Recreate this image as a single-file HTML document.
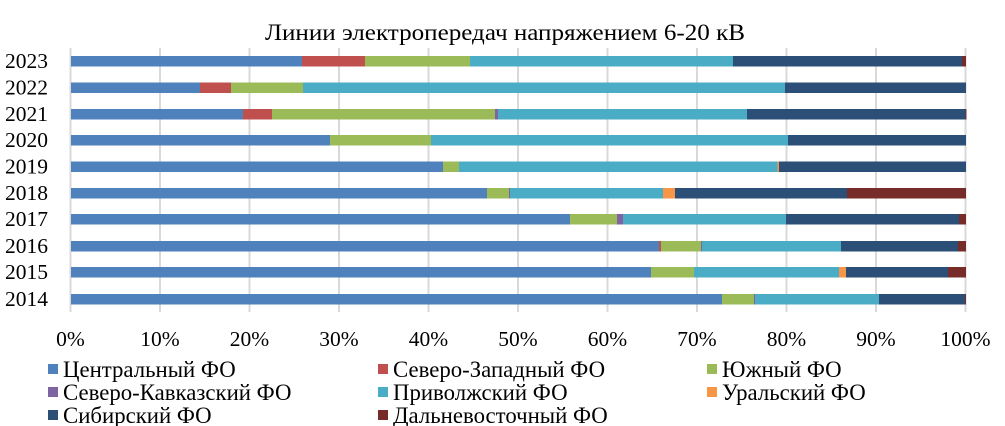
<!DOCTYPE html>
<html><head><meta charset="utf-8"><style>
html,body{margin:0;padding:0;background:#fff;}
svg{display:block;}
text{font-family:"Liberation Serif",serif;fill:#000;}
</style></head><body>
<svg width="1005" height="426" viewBox="0 0 1005 426" xmlns="http://www.w3.org/2000/svg">
<text x="505" y="40" font-size="23" text-anchor="middle" textLength="480" lengthAdjust="spacingAndGlyphs">Линии электропередач напряжением 6-20 кВ</text>
<g stroke="#d9d9d9" stroke-width="2">
<line x1="70.5" y1="48" x2="70.5" y2="312"/>
<line x1="160" y1="48" x2="160" y2="312"/>
<line x1="249.5" y1="48" x2="249.5" y2="312"/>
<line x1="339" y1="48" x2="339" y2="312"/>
<line x1="428.5" y1="48" x2="428.5" y2="312"/>
<line x1="518" y1="48" x2="518" y2="312"/>
<line x1="607.5" y1="48" x2="607.5" y2="312"/>
<line x1="697" y1="48" x2="697" y2="312"/>
<line x1="786.5" y1="48" x2="786.5" y2="312"/>
<line x1="876" y1="48" x2="876" y2="312"/>
<line x1="965.5" y1="48" x2="965.5" y2="312"/>
</g>
<g>
<rect x="71" y="56" width="231" height="10.5" fill="#4F81BD"/>
<rect x="302" y="56" width="63" height="10.5" fill="#C0504D"/>
<rect x="365" y="56" width="105" height="10.5" fill="#9BBB59"/>
<rect x="470" y="56" width="263" height="10.5" fill="#4BACC6"/>
<rect x="733" y="56" width="229" height="10.5" fill="#2C4F77"/>
<rect x="962" y="56" width="4" height="10.5" fill="#772C2A"/>
<rect x="71" y="82.5" width="129" height="10.5" fill="#4F81BD"/>
<rect x="200" y="82.5" width="31" height="10.5" fill="#C0504D"/>
<rect x="231" y="82.5" width="72" height="10.5" fill="#9BBB59"/>
<rect x="303" y="82.5" width="482" height="10.5" fill="#4BACC6"/>
<rect x="785" y="82.5" width="181" height="10.5" fill="#2C4F77"/>
<rect x="71" y="109" width="172" height="10.5" fill="#4F81BD"/>
<rect x="243" y="109" width="29" height="10.5" fill="#C0504D"/>
<rect x="272" y="109" width="223" height="10.5" fill="#9BBB59"/>
<rect x="495" y="109" width="3" height="10.5" fill="#8064A2"/>
<rect x="498" y="109" width="249" height="10.5" fill="#4BACC6"/>
<rect x="747" y="109" width="218.5" height="10.5" fill="#2C4F77"/>
<rect x="965.5" y="109" width="1" height="10.5" fill="#772C2A"/>
<rect x="71" y="135" width="259" height="10.5" fill="#4F81BD"/>
<rect x="330" y="135" width="101" height="10.5" fill="#9BBB59"/>
<rect x="431" y="135" width="357" height="10.5" fill="#4BACC6"/>
<rect x="788" y="135" width="178" height="10.5" fill="#2C4F77"/>
<rect x="71" y="161.5" width="372" height="10.5" fill="#4F81BD"/>
<rect x="443" y="161.5" width="16" height="10.5" fill="#9BBB59"/>
<rect x="459" y="161.5" width="318.5" height="10.5" fill="#4BACC6"/>
<rect x="777.5" y="161.5" width="1.5" height="10.5" fill="#F79646"/>
<rect x="779" y="161.5" width="187" height="10.5" fill="#2C4F77"/>
<rect x="71" y="188" width="416" height="10.5" fill="#4F81BD"/>
<rect x="487" y="188" width="22" height="10.5" fill="#9BBB59"/>
<rect x="509" y="188" width="1" height="10.5" fill="#8064A2"/>
<rect x="510" y="188" width="153" height="10.5" fill="#4BACC6"/>
<rect x="663" y="188" width="12" height="10.5" fill="#F79646"/>
<rect x="675" y="188" width="172" height="10.5" fill="#2C4F77"/>
<rect x="847" y="188" width="119" height="10.5" fill="#772C2A"/>
<rect x="71" y="214" width="499" height="10.5" fill="#4F81BD"/>
<rect x="570" y="214" width="47" height="10.5" fill="#9BBB59"/>
<rect x="617" y="214" width="6" height="10.5" fill="#8064A2"/>
<rect x="623" y="214" width="163" height="10.5" fill="#4BACC6"/>
<rect x="786" y="214" width="173" height="10.5" fill="#2C4F77"/>
<rect x="959" y="214" width="7" height="10.5" fill="#772C2A"/>
<rect x="71" y="241" width="588" height="10.5" fill="#4F81BD"/>
<rect x="659" y="241" width="2" height="10.5" fill="#C0504D"/>
<rect x="661" y="241" width="40" height="10.5" fill="#9BBB59"/>
<rect x="701" y="241" width="1" height="10.5" fill="#8064A2"/>
<rect x="702" y="241" width="139" height="10.5" fill="#4BACC6"/>
<rect x="841" y="241" width="117" height="10.5" fill="#2C4F77"/>
<rect x="958" y="241" width="8" height="10.5" fill="#772C2A"/>
<rect x="71" y="267" width="580" height="10.5" fill="#4F81BD"/>
<rect x="651" y="267" width="43" height="10.5" fill="#9BBB59"/>
<rect x="694" y="267" width="145" height="10.5" fill="#4BACC6"/>
<rect x="839" y="267" width="7" height="10.5" fill="#F79646"/>
<rect x="846" y="267" width="102" height="10.5" fill="#2C4F77"/>
<rect x="948" y="267" width="18" height="10.5" fill="#772C2A"/>
<rect x="71" y="294" width="651" height="10.5" fill="#4F81BD"/>
<rect x="722" y="294" width="32" height="10.5" fill="#9BBB59"/>
<rect x="754" y="294" width="1" height="10.5" fill="#8064A2"/>
<rect x="755" y="294" width="124" height="10.5" fill="#4BACC6"/>
<rect x="879" y="294" width="86" height="10.5" fill="#2C4F77"/>
<rect x="965" y="294" width="1" height="10.5" fill="#772C2A"/>
</g>
<g font-size="21.5">
<text x="5" y="68">2023</text>
<text x="5" y="94.5">2022</text>
<text x="5" y="121">2021</text>
<text x="5" y="147">2020</text>
<text x="5" y="173.5">2019</text>
<text x="5" y="200">2018</text>
<text x="5" y="226">2017</text>
<text x="5" y="253">2016</text>
<text x="5" y="279">2015</text>
<text x="5" y="306">2014</text>
</g>
<g font-size="21.5" text-anchor="middle">
<text x="70.5" y="346">0%</text>
<text x="160" y="346">10%</text>
<text x="249.5" y="346">20%</text>
<text x="339" y="346">30%</text>
<text x="428.5" y="346">40%</text>
<text x="518" y="346">50%</text>
<text x="607.5" y="346">60%</text>
<text x="697" y="346">70%</text>
<text x="786.5" y="346">80%</text>
<text x="876" y="346">90%</text>
<text x="965.5" y="346">100%</text>
</g>
<g font-size="22.8">
<rect x="48" y="364" width="10" height="10" fill="#4F81BD"/><text x="63" y="377">Центральный ФО</text>
<rect x="378" y="364" width="10" height="10" fill="#C0504D"/><text x="393" y="377">Северо-Западный ФО</text>
<rect x="707" y="364" width="10" height="10" fill="#9BBB59"/><text x="722" y="377">Южный ФО</text>
<rect x="48" y="387" width="10" height="10" fill="#8064A2"/><text x="63" y="400">Северо-Кавказский ФО</text>
<rect x="378" y="387" width="10" height="10" fill="#4BACC6"/><text x="393" y="400">Приволжский ФО</text>
<rect x="707" y="387" width="10" height="10" fill="#F79646"/><text x="722" y="400">Уральский ФО</text>
<rect x="48" y="410" width="10" height="10" fill="#2C4F77"/><text x="63" y="423">Сибирский ФО</text>
<rect x="378" y="410" width="10" height="10" fill="#772C2A"/><text x="393" y="423">Дальневосточный ФО</text>
</g>
</svg>
</body></html>
